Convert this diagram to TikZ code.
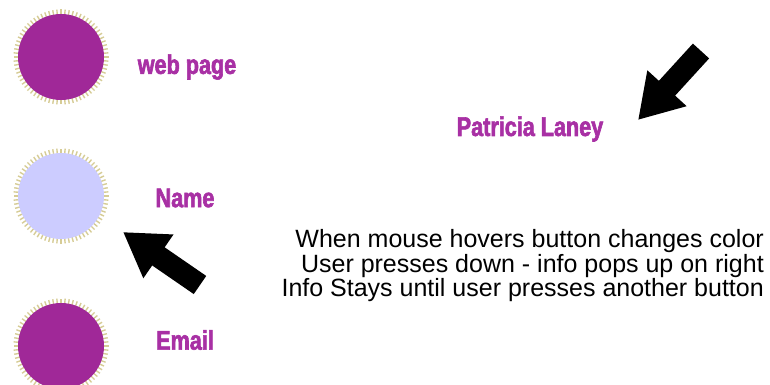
\documentclass[tikz,border=0pt]{standalone}
\usepackage{fontspec}
\setmainfont{Liberation Sans}
\newfontfamily\labelfont[FakeStretch=0.8,FakeBold=2.2]{Liberation Sans}
\usetikzlibrary{arrows.meta}
\definecolor{btnpurple}{RGB}{160,40,152}
\definecolor{btnblue}{RGB}{204,204,255}
\definecolor{toothbeige}{RGB}{214,204,150}
\definecolor{labelpurple}{RGB}{168,48,164}
\begin{document}
\begin{tikzpicture}[x=1pt,y=-1pt,
    btnlabel/.style={text=labelpurple,font=\labelfont\bfseries\fontsize{27}{27}\selectfont},
    bigarrow/.style={line width=22pt,-{Triangle[width=50pt,length=43pt]}}]
    \useasboundingbox (0,0) rectangle (770,385);
    % buttons
    \foreach \name/\y/\col in {web/57/btnpurple,name/196/btnblue,email/346/btnpurple}{
        \foreach \a in {0,5,...,355}
            \draw [toothbeige,line width=1.4pt] (61,\y) ++(\a:40) -- ++(\a:7.5);
        \node [circle,fill=\col,minimum size=86pt,inner sep=0pt] (\name) at (61,\y) {};
    }
    \node [btnlabel] (weblbl) at (187,67) {web page};
    \node [btnlabel] (namelbl) at (185,198) {Name};
    \node [btnlabel] (emaillbl) at (185,340) {Email};
    \node [btnlabel] (info) at (530,129) {Patricia Laney};
    % arrows
    \coordinate (tailA) at (701,51);
    \coordinate (tipA) at (638,120);
    \draw [bigarrow] (tailA) -- (tipA);
    \coordinate (tailB) at (200,285);
    \coordinate (tipB) at (123,232);
    \draw [bigarrow] (tailB) -- (tipB);
    % notes
    \node [align=right,anchor=east,inner sep=0pt,font=\fontsize{25}{24.5}\selectfont] (notes) at (764,266)
        {When mouse hovers button changes color\\User presses down - info pops up on right\\Info Stays until user presses another button};
\end{tikzpicture}
\end{document}
